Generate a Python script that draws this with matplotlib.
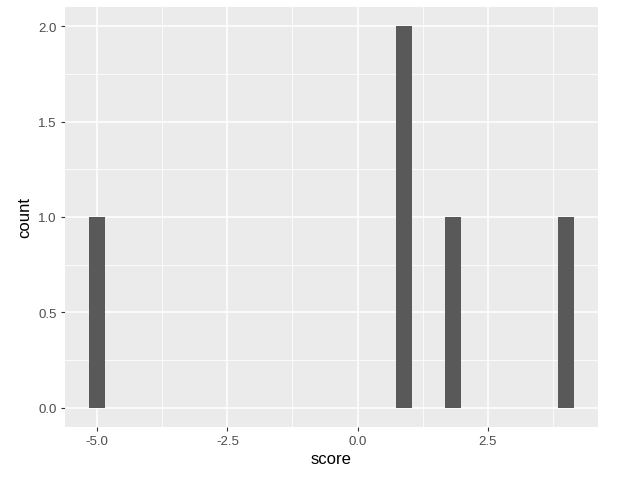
import numpy as np
import matplotlib.pyplot as plt

plt.rcParams['font.family'] = ['Liberation Sans', 'DejaVu Sans']

# histogram bins (ggplot default 30 bins)
bin_centers = [-5.0, 0.9, 1.83, 4.0]
counts = [1, 2, 1, 1]
bin_width = 0.31

x_ticks = [-5.0, -2.5, 0.0, 2.5]
y_ticks = [0.0, 0.5, 1.0, 1.5, 2.0]

fig = plt.figure(figsize=(6.21, 5.02), dpi=100)
ax = fig.add_axes([65/621, 1 - 428/502, (598-65)/621, (428-8)/502])
ax.set_facecolor("#EBEBEB")

ax.bar(bin_centers, counts, width=bin_width, color="#595959", zorder=3)

ax.set_xlim(-5.62, 4.62)
ax.set_ylim(-0.1, 2.1)

# minor grid
for v in [-3.75, -1.25, 1.25, 3.75]:
    ax.axvline(v, color="white", lw=0.55, zorder=1)
for v in [0.25, 0.75, 1.25, 1.75]:
    ax.axhline(v, color="white", lw=0.55, zorder=1)
# major grid
for v in x_ticks:
    ax.axvline(v, color="white", lw=1.1, zorder=2)
for v in y_ticks:
    ax.axhline(v, color="white", lw=1.1, zorder=2)

ax.set_xticks(x_ticks)
ax.set_xticklabels(["-5.0", "-2.5", "0.0", "2.5"])
ax.set_yticks(y_ticks)
ax.set_yticklabels(["0.0", "0.5", "1.0", "1.5", "2.0"])
ax.tick_params(colors="#333333", labelcolor="#4D4D4D", labelsize=9.5, length=3, width=0.8, pad=3)

for s in ax.spines.values():
    s.set_visible(False)

ax.set_xlabel("score", fontsize=12, color="black", labelpad=3)
ax.set_ylabel("count", fontsize=12, color="black", labelpad=4)

fig.savefig("out.png", dpi=100)
